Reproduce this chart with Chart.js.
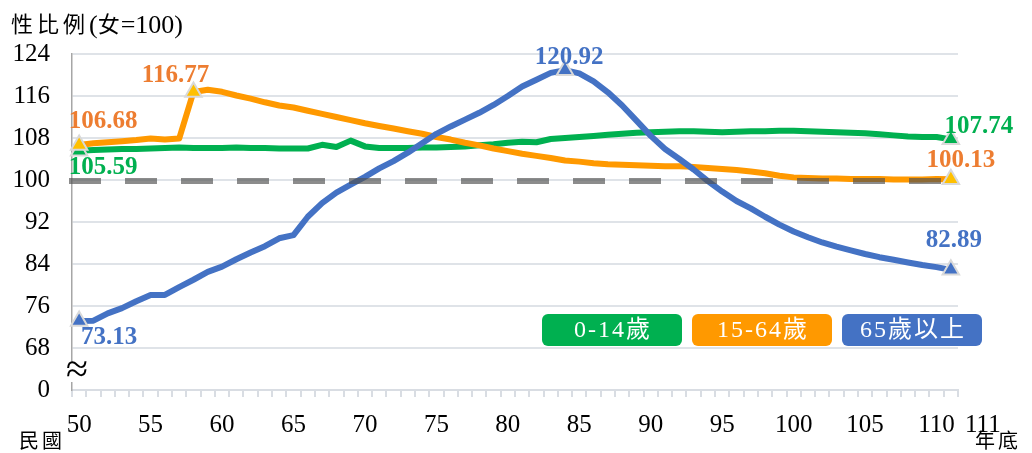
<!DOCTYPE html>
<html>
<head>
<meta charset="utf-8">
<script src="https://cdn.jsdelivr.net/npm/chart.js@4.4.0/dist/chart.umd.min.js"></script>
<style>
  html, body { margin: 0; padding: 0; background: #fff; }
</style>
</head>
<body>
<canvas id="results" width="1032" height="453"></canvas>
<script>
'use strict';

// years (民國), year end
var years = ['50', '51', '52', '53', '54', '55', '56', '57', '58', '59',
  '60', '61', '62', '63', '64', '65', '66', '67', '68', '69',
  '70', '71', '72', '73', '74', '75', '76', '77', '78', '79',
  '80', '81', '82', '83', '84', '85', '86', '87', '88', '89',
  '90', '91', '92', '93', '94', '95', '96', '97', '98', '99',
  '100', '101', '102', '103', '104', '105', '106', '107', '108', '109',
  '110', '111'];

var seriesNames = ['0-14歲', '15-64歲', '65歲以上'];

// 0-14
var youngRatio = [105.59, 105.7, 105.8, 105.9, 105.9, 106.0, 106.1, 106.2, 106.1, 106.1,
  106.1, 106.2, 106.1, 106.1, 106.0, 106.0, 106.0, 106.7, 106.3, 107.5,
  106.4, 106.1, 106.1, 106.1, 106.2, 106.2, 106.3, 106.4, 106.6, 106.8,
  107.1, 107.3, 107.2, 107.8, 108.0, 108.2, 108.4, 108.6, 108.8, 109.0,
  109.1, 109.2, 109.3, 109.3, 109.2, 109.1, 109.2, 109.3, 109.3, 109.4,
  109.4, 109.3, 109.2, 109.1, 109.0, 108.9, 108.7, 108.5, 108.3, 108.2,
  108.2, 107.74];

// 15-64
var workingRatio = [106.68, 107.0, 107.2, 107.4, 107.6, 107.9, 107.7, 107.9, 116.77, 117.2,
  116.8, 116.1, 115.5, 114.8, 114.2, 113.8, 113.2, 112.6, 112.0, 111.4,
  110.8, 110.3, 109.8, 109.3, 108.8, 108.2, 107.7, 107.1, 106.6, 106.0,
  105.5, 105.0, 104.6, 104.2, 103.7, 103.5, 103.2, 103.0, 102.9, 102.8,
  102.7, 102.6, 102.6, 102.5, 102.3, 102.1, 101.9, 101.6, 101.3, 100.8,
  100.5, 100.4, 100.3, 100.3, 100.2, 100.2, 100.2, 100.1, 100.1, 100.1,
  100.2, 100.13];

// 65+
var elderRatio = [73.13, 73.2, 74.6, 75.6, 76.9, 78.1, 78.1, 79.6, 81.0, 82.5,
  83.5, 84.9, 86.2, 87.4, 88.9, 89.5, 93.0, 95.6, 97.6, 99.1,
  100.6, 102.2, 103.6, 105.2, 107.0, 108.8, 110.2, 111.5, 112.8, 114.3,
  116.0, 117.8, 119.1, 120.4, 120.92, 120.3, 118.8, 116.7, 114.2, 111.3,
  108.4, 105.9, 104.0, 102.0, 99.8, 97.8, 96.0, 94.6, 93.0, 91.5,
  90.2, 89.1, 88.1, 87.3, 86.6, 85.9, 85.3, 84.8, 84.3, 83.8,
  83.4, 82.89];

// y ticks: bottom tick is the axis break, labelled 0
var yTickValues = [60, 68, 76, 84, 92, 100, 108, 116, 124];
var yTickLabels = ['0', '68', '76', '84', '92', '100', '108', '116', '124'];
var xTickLabels = ['50', '55', '60', '65', '70', '75', '80', '85', '90', '95', '100', '105', '110'];
var parityLine = 100;

// which points get a marker and a value label
var youngMarks = [0, 61];
var workingMarks = [0, 8, 61];
var elderMarks = [0, 34, 61];

var serif = "'Liberation Serif', 'Noto Sans CJK TC', serif";
var colors = ['#00B050', '#FF9900', '#4472C4'];
var markerColors = ['#00B050', '#FFC000', '#4472C4'];
var labelColors = ['#00B050', '#ED7D31', '#4472C4'];
// label offsets from the marked point, per series
var labelOffsets = [
  [[24, 17], [28, -13]],
  [[24, -23], [-18, -16], [10, -19]],
  [[30, 16], [4, -13], [3, -29]]
];

function markerRadius(marks) {
  return years.map(function (y, i) {
    return marks.indexOf(i) >= 0 ? 9.5 : 0;
  });
}

function makeDataset(idx, values, marks, order) {
  return {
    label: seriesNames[idx],
    data: values,
    borderColor: colors[idx],
    backgroundColor: colors[idx],
    borderWidth: 6,
    borderJoinStyle: 'round',
    borderCapStyle: 'round',
    tension: 0,
    pointStyle: 'triangle',
    pointRadius: markerRadius(marks),
    pointBackgroundColor: markerColors[idx],
    pointBorderColor: '#d9d9d9',
    pointBorderWidth: 2,
    order: order,
    marks: marks
  };
}

// draws pieces of text one after another, each with its own font
function drawRun(ctx, parts, x, y) {
  parts.forEach(function (p) {
    ctx.font = p[1];
    ctx.letterSpacing = p[2];
    ctx.fillText(p[0], x, y);
    x += ctx.measureText(p[0]).width;
  });
  ctx.letterSpacing = '0px';
}

// extra drawing: dashed 100 line, value labels, legend boxes, captions
var extras = {
  id: 'extras',
  afterDatasetsDraw: function (chart) {
    var ctx = chart.ctx;
    var area = chart.chartArea;
    var y = chart.scales.y.getPixelForValue(parityLine) + 1;
    ctx.save();
    ctx.strokeStyle = 'rgba(80,80,80,0.66)';
    ctx.lineWidth = 6;
    ctx.setLineDash([32, 24]);
    ctx.beginPath();
    ctx.moveTo(area.left - 3, y);
    ctx.lineTo(area.right - 16, y);
    ctx.stroke();
    ctx.restore();
  },
  afterDraw: function (chart) {
    var ctx = chart.ctx;
    var xs = chart.scales.x;
    var ys = chart.scales.y;
    ctx.save();

    // value labels
    ctx.font = 'bold 25px ' + serif;
    ctx.textAlign = 'center';
    ctx.textBaseline = 'middle';
    chart.data.datasets.forEach(function (ds, d) {
      ds.marks.forEach(function (i, k) {
        var px = xs.getPixelForValue(i);
        var py = ys.getPixelForValue(ds.data[i]);
        ctx.fillStyle = labelColors[d];
        ctx.fillText(ds.data[i].toFixed(2), px + labelOffsets[d][k][0], py + labelOffsets[d][k][1]);
      });
    });

    // last year label, pushed right as in the source
    ctx.font = '25px ' + serif;
    ctx.fillStyle = '#000';
    ctx.fillText(years[years.length - 1], xs.getPixelForValue(years.length - 1) + 32, 425);

    // axis break mark
    ctx.fillStyle = '#fff';
    ctx.fillRect(66, 362, 22, 20);
    ctx.fillStyle = '#000';
    ctx.font = '40px ' + serif;
    ctx.fillText('≈', 77, 371);

    // legend boxes
    ctx.font = '24px ' + serif;
    var bx = 542;
    chart.data.datasets.forEach(function (ds, d) {
      ctx.fillStyle = colors[d];
      ctx.beginPath();
      ctx.roundRect(bx, 314, 140, 32, 6);
      ctx.fill();
      ctx.fillStyle = '#fff';
      ctx.letterSpacing = '2px';
      ctx.fillText(ds.label, bx + 71, 331);
      ctx.letterSpacing = '0px';
      bx += 150;
    });

    // captions
    ctx.fillStyle = '#000';
    ctx.textAlign = 'left';
    drawRun(ctx, [
      ['性比例', '22px ' + serif, '4px'],
      ['(', '26px ' + serif, '0px'],
      ['女', '22px ' + serif, '1px'],
      ['=100)', '26px ' + serif, '0px']
    ], 11, 26);
    ctx.font = '20px ' + serif;
    ctx.letterSpacing = '3px';
    ctx.fillText('民國', 19, 443);
    ctx.fillText('年底', 975, 443);
    ctx.restore();
  }
};

var c = document.getElementById('results');
var context = c.getContext('2d');

var results = new Chart(context, {
  type: 'line',
  data: {
    labels: years,
    datasets: [
      makeDataset(0, youngRatio, youngMarks, 2),
      makeDataset(1, workingRatio, workingMarks, 1),
      makeDataset(2, elderRatio, elderMarks, 0)
    ]
  },
  options: {
    responsive: false,
    animation: false,
    devicePixelRatio: 1,
    layout: { padding: { top: 54, right: 74, left: 0, bottom: 0 } },
    plugins: {
      legend: { display: false },
      tooltip: { enabled: false }
    },
    scales: {
      x: {
        type: 'category',
        offset: true,
        afterFit: function (scale) { scale.height = 63; },
        grid: {
          offset: true,
          drawOnChartArea: false,
          drawTicks: true,
          tickLength: 7,
          color: '#d9dde3',
          lineWidth: 2
        },
        border: { color: '#d9dde3', width: 2 },
        ticks: {
          autoSkip: false,
          maxRotation: 0,
          padding: 13,
          color: '#000',
          font: { family: serif, size: 25 },
          callback: function (value) {
            var lab = this.getLabelForValue(value);
            return xTickLabels.indexOf(lab) >= 0 ? lab : '';
          }
        }
      },
      y: {
        min: yTickValues[0],
        max: yTickValues[yTickValues.length - 1],
        afterFit: function (scale) { scale.width = 72; },
        afterBuildTicks: function (scale) {
          scale.ticks = yTickValues.map(function (v) { return { value: v }; });
        },
        grid: {
          color: '#dfe3e8',
          lineWidth: 2,
          drawTicks: false
        },
        border: { color: '#a6a6a6', width: 1.5 },
        ticks: {
          padding: 22,
          color: '#000',
          font: { family: serif, size: 25 },
          callback: function (value) {
            return yTickLabels[yTickValues.indexOf(value)];
          }
        }
      }
    }
  },
  plugins: [extras]
});
</script>
</body>
</html>
